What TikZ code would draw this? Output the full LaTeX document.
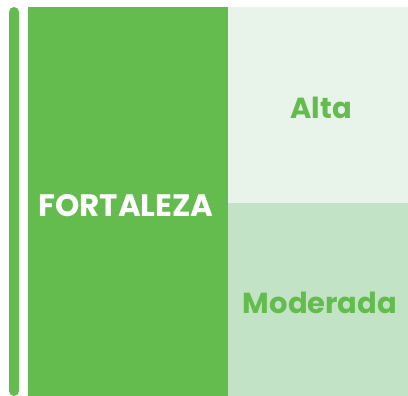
\documentclass[tikz,border=0pt]{standalone}
\usepackage{fontspec}
\setmainfont{Poppins}
\usepackage{tikz}

\definecolor{verde}{HTML}{65BC4E}
\definecolor{verdeclaro}{HTML}{E8F3EA}
\definecolor{verdemedio}{HTML}{C3E3C6}

\begin{document}
\begin{tikzpicture}[x=1pt, y=-1pt, every node/.style={inner sep=0pt, outer sep=0pt},
  panel/.style={rectangle, anchor=north west},
  titulo/.style={font=\fontsize{31}{31}\selectfont\bfseries, text=white, anchor=base},
  nivel/.style={font=\fontsize{29}{29}\selectfont\bfseries, text=verde, anchor=base}]
				\useasboundingbox (0,0) rectangle (408,396);
				
				\node[panel, fill=verde, rounded corners=5pt, minimum width=10pt, minimum height=389pt] (barra) at (9,7){};
				\node[panel, fill=verde, minimum width=200pt, minimum height=389pt] (bloque) at (28,7){};
				\node[panel, fill=verdeclaro, minimum width=180pt, minimum height=196pt] (alta) at (228,7){};
				\node[panel, fill=verdemedio, minimum width=180pt, minimum height=193pt] (moderada) at (228,203){};
				
				\node[titulo] (fortaleza) at (126,217){FORTALEZA};
				\node[nivel] (txtalta) at (321,119){Alta};
				\node[nivel] (txtmoderada) at (320,314){Moderada};
\end{tikzpicture}
\end{document}
